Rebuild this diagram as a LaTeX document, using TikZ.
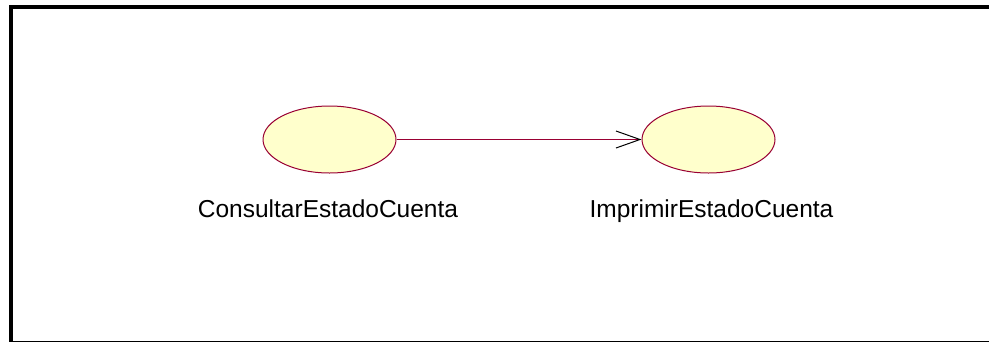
\documentclass[tikz,border=0pt]{standalone}
\usepackage{fontspec}
\setmainfont{Liberation Sans}
\usetikzlibrary{arrows.meta,shapes.geometric}
\definecolor{usecase}{RGB}{255,255,204}
\definecolor{caseline}{RGB}{153,0,51}

\begin{document}
\begin{tikzpicture}[
  x=0.5pt,y=-0.5pt,
  >={Straight Barb[length=12pt,width=8.5pt,line width=0.5pt,color=black]},
  ucase/.style={ellipse,minimum width=66.5pt,minimum height=33.5pt,inner sep=0pt,
                draw=caseline,fill=usecase,line width=0.5pt},
  uclabel/.style={anchor=base,inner sep=0pt,font=\fontsize{12.25}{14}\selectfont},
  assoc/.style={caseline,line width=0.5pt,->},
  frameedge/.style={black,line width=2pt}
]
\useasboundingbox (0,0) rectangle (989,343);
% frame
\coordinate (fbl) at (11,341.5);
\coordinate (ftl) at (11,7);
\coordinate (ftr) at (989,7);
\coordinate (fbr) at (989,341.5);
\draw[frameedge] (fbl)--(ftl)--(ftr);
\draw[black,line width=0.75pt] (fbl)--(fbr);

% use cases
\node[ucase] (consultar) at (329.5,139.5) {};
\node[ucase] (imprimir)  at (708.5,139.5) {};
\node[uclabel] (lconsultar) at (328,217) {ConsultarEstadoCuenta};
\node[uclabel] (limprimir)  at (711.5,217) {ImprimirEstadoCuenta};

% association
\draw[assoc] (consultar)--(imprimir);
\end{tikzpicture}
\end{document}
